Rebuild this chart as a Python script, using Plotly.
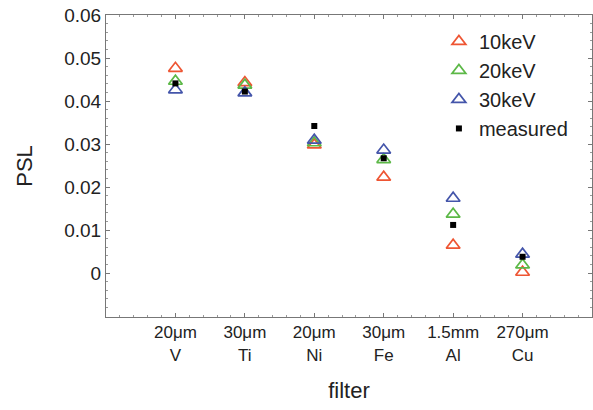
import plotly.graph_objects as go

filters = ["20μm<br>V", "30μm<br>Ti", "20μm<br>Ni", "30μm<br>Fe", "1.5mm<br>Al", "270μm<br>Cu"]
psl_10kev = [0.0476, 0.0443, 0.0298, 0.0223, 0.0065, 0.0002]
psl_20kev = [0.0446, 0.0437, 0.0303, 0.0264, 0.0137, 0.0019]
psl_30kev = [0.0426, 0.0419, 0.0309, 0.0286, 0.0174, 0.0044]
psl_measured = [0.0441, 0.0422, 0.0342, 0.0267, 0.0112, 0.0038]
y_ticks = [0, 0.01, 0.02, 0.03, 0.04, 0.05, 0.06]

xpos = list(range(1, len(filters) + 1))

FONT = "Liberation Sans, Arial, sans-serif"
fig = go.Figure()
for name, vals, col in [("10keV", psl_10kev, "#EE5533"),
                        ("20keV", psl_20kev, "#5CB847"),
                        ("30keV", psl_30kev, "#4455AA")]:
    fig.add_trace(go.Scatter(x=xpos, y=vals, mode="markers", name=name,
                             marker=dict(symbol="triangle-up-open", size=12, color=col,
                                         line=dict(width=1.7, color=col))))
fig.add_trace(go.Scatter(x=xpos, y=psl_measured, mode="markers", name="measured",
                         marker=dict(symbol="square", size=6, color="black")))

axis_common = dict(showline=True, linecolor="#777777", linewidth=1, mirror="ticks",
                   ticks="inside", ticklen=4, tickcolor="#777777", showgrid=False,
                   zeroline=False, automargin=False)
fig.update_xaxes(range=[0, 7], tickvals=xpos, ticktext=filters,
                 minor=dict(dtick=0.2, ticks="inside", ticklen=2, tickcolor="#999999"),
                 title=dict(text="filter", font=dict(size=22, family=FONT, color="#222"), standoff=19),
                 tickfont=dict(size=17, family=FONT, color="#222"), **axis_common)
fig.update_yaxes(range=[-0.0102, 0.06], tickvals=y_ticks, ticktext=[f"{v:g}" for v in y_ticks],
                 minor=dict(dtick=0.002, ticks="inside", ticklen=2, tickcolor="#999999"),
                 title=dict(text="PSL", font=dict(size=22, family=FONT, color="#222"), standoff=25),
                 tickfont=dict(size=19, family=FONT, color="#222"), **axis_common)
fig.update_layout(width=593, height=410, margin=dict(l=106, r=1, t=15, b=93),
                  plot_bgcolor="white", paper_bgcolor="white",
                  legend=dict(x=0.685, y=0.977, xanchor="left", yanchor="top",
                              font=dict(size=20, family=FONT, color="#222"),
                              bgcolor="rgba(0,0,0,0)", itemwidth=30, tracegroupgap=0))
fig.write_html("out.html", config={"displayModeBar": False},
               post_script="document.body.style.margin='0';")
